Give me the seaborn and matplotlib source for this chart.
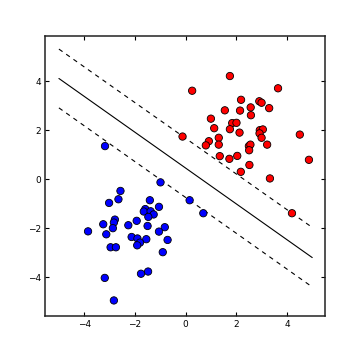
import pandas as pd
import seaborn as sns
import matplotlib
matplotlib.use("Agg")
import matplotlib.pyplot as plt

# Points
red_x = [1.75, 0.26, 3.65, 2.19, 2.91, 3.00, 2.57, 3.30, 1.55, 2.15, 2.58, 1.00, 1.84,
         2.01, 1.13, 1.75, 2.93, 3.05, 2.13, 2.92, 4.51, -0.12, 3.00, 1.31, 0.92, 0.80,
         1.31, 3.22, 2.50, 2.56, 2.51, 1.35, 1.73, 2.04, 4.87, 2.52, 2.18, 3.33, 4.20]
red_y = [4.21, 3.61, 3.71, 3.24, 3.18, 3.12, 2.93, 2.90, 2.81, 2.80, 2.61, 2.47, 2.29,
         2.30, 2.08, 2.04, 2.00, 2.03, 1.90, 1.87, 1.82, 1.74, 1.69, 1.69, 1.55, 1.38,
         1.41, 1.41, 1.35, 1.41, 1.18, 0.94, 0.83, 0.95, 0.79, 0.58, 0.30, 0.03, -1.39]

blue_x = [-3.18, -0.99, -2.57, -2.65, -3.02, -1.41, 0.16, -1.05, -1.59, -1.65, -1.38,
          -1.26, 0.70, -1.47, -2.79, -1.93, -2.83, -3.25, -2.87, -2.26, -1.50, -0.82,
          -3.85, -1.05, -3.13, -2.13, -1.90, -1.55, -0.71, -1.80, -1.91, -2.96, -2.75,
          -0.90, -1.48, -1.76, -3.19, -2.83]
blue_y = [1.35, -0.13, -0.48, -0.82, -0.97, -0.86, -0.86, -1.13, -1.22, -1.32, -1.31,
          -1.44, -1.39, -1.54, -1.65, -1.70, -1.77, -1.84, -2.00, -1.88, -1.91, -1.96,
          -2.13, -2.14, -2.25, -2.36, -2.42, -2.45, -2.48, -2.59, -2.70, -2.78, -2.78,
          -2.98, -3.77, -3.86, -4.03, -4.95]

# Separating line and margins (endpoints at x=-5 and x=5)
line_x = [-5, 5]
boundary_y = [4.11, -3.20]
upper_y = [5.31, -1.97]
lower_y = [2.91, -4.40]

pts = pd.DataFrame({
    "x": red_x + blue_x,
    "y": red_y + blue_y,
    "cls": ["red"] * len(red_x) + ["blue"] * len(blue_x),
})

sns.set_style("white")
plt.rcParams.update({
    "xtick.direction": "in", "ytick.direction": "in",
    "xtick.top": True, "ytick.right": True,
    "xtick.bottom": True, "ytick.left": True,
    "xtick.major.size": 3, "ytick.major.size": 3,
    "xtick.labelsize": 6.5, "ytick.labelsize": 6.5,
    "xtick.color": "black", "ytick.color": "black",
    "axes.edgecolor": "#222222", "axes.linewidth": 1.1,
})

fig, ax = plt.subplots(figsize=(3.61, 3.61), dpi=100)
fig.subplots_adjust(left=0.126, right=0.9, bottom=0.125, top=0.9)

sns.lineplot(x=line_x, y=boundary_y, color="k", linewidth=0.8, ax=ax)
sns.lineplot(x=line_x, y=upper_y, color="k", linewidth=0.8, ax=ax)
sns.lineplot(x=line_x, y=lower_y, color="k", linewidth=0.8, ax=ax)
ax.lines[1].set_dashes((4, 4))
ax.lines[2].set_dashes((4, 4))

sns.scatterplot(data=pts, x="x", y="y", hue="cls",
                palette={"red": "#ff0000", "blue": "#0000ff"},
                edgecolor="black", linewidth=0.6, s=28, legend=False, ax=ax, zorder=3)

ax.set_xlim(-5.53, 5.5)
ax.set_ylim(-5.58, 5.84)
ax.set_xticks([-4, -2, 0, 2, 4])
ax.set_yticks([-4, -2, 0, 2, 4])
ax.set_xlabel("")
ax.set_ylabel("")
ax.tick_params(pad=3)

plt.savefig("out.png", dpi=100)
